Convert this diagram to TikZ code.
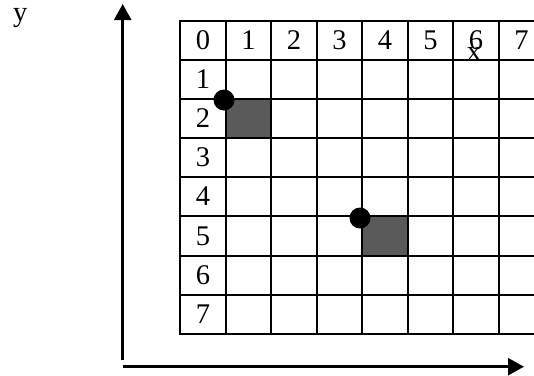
\documentclass[tikz,border=0pt]{standalone}
\usepackage{fontspec}
\setmainfont{Liberation Serif}
\usetikzlibrary{arrows.meta}
\tikzset{
  gridline/.style={line width=2pt},
  shadecell/.style={fill=shade, draw=none},
  label/.style={font=\fontsize{28.5}{30}\selectfont, inner sep=0pt},
  corner/.style={circle, fill=black, inner sep=0pt, minimum size=21pt},
  axis/.style={line width=2.6pt, -{Triangle[length=16pt,width=17pt]}}
}
\definecolor{shade}{HTML}{5A5A5A}
\begin{document}
\begin{tikzpicture}[x=1pt,y=-1pt]
\useasboundingbox (0,0) rectangle (534,375);
% column lines: 180,226,271,317,362,408,453,499,544 ; row lines: 21,60,99,138,177,216,256,295,334
% shaded cells
\fill[shadecell] (226,99) rectangle (271,138);
\fill[shadecell] (362,216) rectangle (408,256);
% grid
\foreach \x in {180,226,271,317,362,408,453,499,544} {
  \draw[gridline] (\x,20) -- (\x,335);
}
\foreach \y in {21,60,99,138,177,216,256,295,334} {
  \draw[gridline] (179,\y) -- (545,\y);
}
% header digits
\foreach \i/\x in {0/203,1/248.5,2/294,3/339.5,4/385,5/430.5,6/476,7/521.5} {
  \node[label] (h\i) at (\x,40.5) {\i};
}
\foreach \j/\y in {1/79.5,2/118.5,3/157.5,4/196.5,5/236,6/275.5,7/314.5} {
  \node[label] (r\j) at (203,\y) {\j};
}
% dots
\node[corner] (d1) at (224,100) {};
\node[corner] (d2) at (360,218) {};
% labels
\node[label, anchor=base] (xl) at (474,60) {x};
\node[label, anchor=base] (yl) at (20.3,21.5) {y};
% axes
\coordinate (vb) at (122.7,360);
\coordinate (vt) at (122.7,4);
\coordinate (hl) at (122.7,366.7);
\coordinate (hr) at (524,366.7);
\draw[axis] (vb) -- (vt);
\draw[axis] (hl) -- (hr);
\end{tikzpicture}
\end{document}
